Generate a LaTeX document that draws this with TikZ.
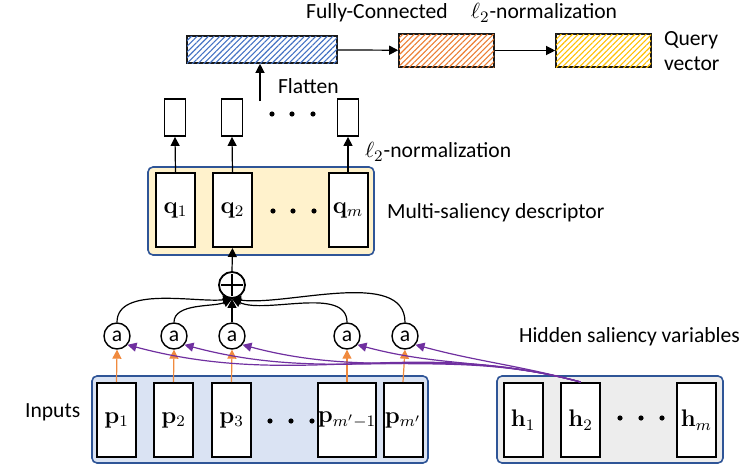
\documentclass[tikz,border=0pt]{standalone}
\usepackage[no-math]{fontspec}
\setmainfont{Carlito}
\usetikzlibrary{arrows.meta,patterns.meta}
\definecolor{hatchblue}{HTML}{4472C4}
\definecolor{hatchorange}{HTML}{ED7D31}
\definecolor{hatchyellow}{HTML}{FFC000}
\definecolor{frameblue}{HTML}{2F5597}
\definecolor{inputfill}{HTML}{DAE3F3}
\definecolor{descfill}{HTML}{FFF2CC}
\definecolor{hiddenfill}{HTML}{EDEDED}
\definecolor{attnpurple}{HTML}{7030A0}
\definecolor{inorange}{HTML}{F08A3E}
\tikzset{
  vec/.style={draw, line width=1pt, fill=white, minimum width=19.5pt, minimum height=37pt, inner sep=0pt,
    font=\fontsize{12}{14}\selectfont},
  nvec/.style={draw, line width=0.9pt, fill=white, minimum width=10.5pt, minimum height=18.5pt, inner sep=0pt},
  hatched/.style={draw=black!90, line width=0.8pt, fill=white, minimum height=16.5pt, inner sep=0pt,
    postaction={pattern={Lines[angle=45,distance=2pt,line width=0.55pt]}, pattern color=#1}},
  group/.style={draw=frameblue, line width=0.8pt, rounded corners=2.5pt, fill=#1},
  attn/.style={circle, draw, line width=0.7pt, fill=white, minimum size=13pt, inner sep=0pt},
  tip/.style={-{Triangle[length=4.5pt,width=4.5pt]}, line width=0.6pt},
}
\begin{document}
\begin{tikzpicture}[x=0.5pt, y=-0.5pt, font=\fontsize{10.8}{12.5}\selectfont]
  \useasboundingbox (0,0) rectangle (740,471);

  % group backgrounds
  \draw[group=descfill] (148,167) rectangle (374,255);
  \draw[group=inputfill] (92,376) rectangle (428,463);
  \draw[group=hiddenfill] (497,376) rectangle (723,463);

  % query branch
  \node[hatched=hatchblue, minimum width=75pt, minimum height=13.5pt] (fc) at (262,49.5) {};
  \node[hatched=hatchorange, minimum width=47.5pt] (norm) at (446.5,50.5) {};
  \node[hatched=hatchyellow, minimum width=47.5pt] (query) at (603.5,50.5) {};
  \node (fclabel) at (377,13) {Fully-Connected};
  \node (normlabel) at (544,13) {$\ell_2$-normalization};
  \node[anchor=west, align=left] (querylabel) at (657,51) {Query\\vector};
  \draw[tip] (fc) -- (norm);
  \draw[tip] (norm) -- (query);

  % normalized vectors, flattened
  \foreach \name/\x in {n1/175, n2/232, nm/348}
    \node[nvec] (\name) at (\x,117.5) {};
  \coordinate (flat) at (260,101);
  \draw[tip] (flat) -- (flat |- fc.south);
  \node[anchor=west] (flatlabel) at (271,86) {Flatten};
  \node[anchor=west] (l2label) at (358,152) {$\ell_2$-normalization};

  % multi-saliency descriptor
  \node[vec] (q1) at (175.5,210) {$\mathbf{q}_1$};
  \node[vec] (q2) at (232.5,210) {$\mathbf{q}_2$};
  \node[vec] (qm) at (348,210) {$\mathbf{q}_m$};
  \node[anchor=west] (desclabel) at (380,213) {Multi-saliency descriptor};
  \draw[tip] (q1.north) -- (n1.south);
  \draw[tip] (q2.north) -- (n2.south);
  \draw[tip] (qm.north) -- (nm.south);

  % dots
  \foreach \x in {272,292,313} \fill (\x,114) circle (1.3pt);
  \foreach \x in {273,293,314} \fill (\x,211) circle (1.3pt);
  \foreach \x in {270,291,312} \fill (\x,421) circle (1.3pt);
  \foreach \x in {620,641,662} \fill (\x,418) circle (1.3pt);

  % sum and attention
  \node[attn, line width=0.9pt, path picture={
      \draw[line width=1.3pt] ([xshift=-5.5pt]path picture bounding box.center) -- ([xshift=5.5pt]path picture bounding box.center);
      \draw[line width=1.3pt] ([yshift=-5.5pt]path picture bounding box.center) -- ([yshift=5.5pt]path picture bounding box.center);
    }] (plus) at (232,285) {};
  \draw[tip] (plus.north) -- (q2.south);
  \foreach \i/\x in {1/117, 2/174, 3/232, 4/347, 5/405}
    \node[attn] (a\i) at (\x,336) {a};
  \foreach \i/\ang in {1/186, 2/205, 4/-25, 5/-8}
    \draw[tip] (a\i.north) to[out=90, in=\ang, looseness=0.8] (plus.south);
  \draw[tip] (a3.north) -- (plus.south);

  % inputs
  \foreach \i/\x/\lab in {1/116.5/{\mathbf{p}_1}, 2/173.5/{\mathbf{p}_2}, 3/231.5/{\mathbf{p}_3}, 4/347/{\mathbf{p}_{m'-1}}, 5/403/{\mathbf{p}_{m'}}}
    \node[vec] (p\i) at (\x,420) {$\lab$};
  \node[anchor=west] (inlabel) at (18,412) {Inputs};
  \foreach \i in {1,...,5}
    \draw[tip, inorange] (p\i.north) -- (a\i.south);

  % hidden saliency variables
  \node[vec] (h1) at (523,420) {$\mathbf{h}_1$};
  \node[vec] (h2) at (580.5,420) {$\mathbf{h}_2$};
  \node[vec] (hm) at (696.5,420) {$\mathbf{h}_m$};
  \node[anchor=west] (hidlabel) at (512,337) {Hidden saliency variables};
  \foreach \i in {1,...,5}
    \draw[tip, attnpurple] (h2.north) to[out=165, in=-15] (a\i.-40);
\end{tikzpicture}
\end{document}
